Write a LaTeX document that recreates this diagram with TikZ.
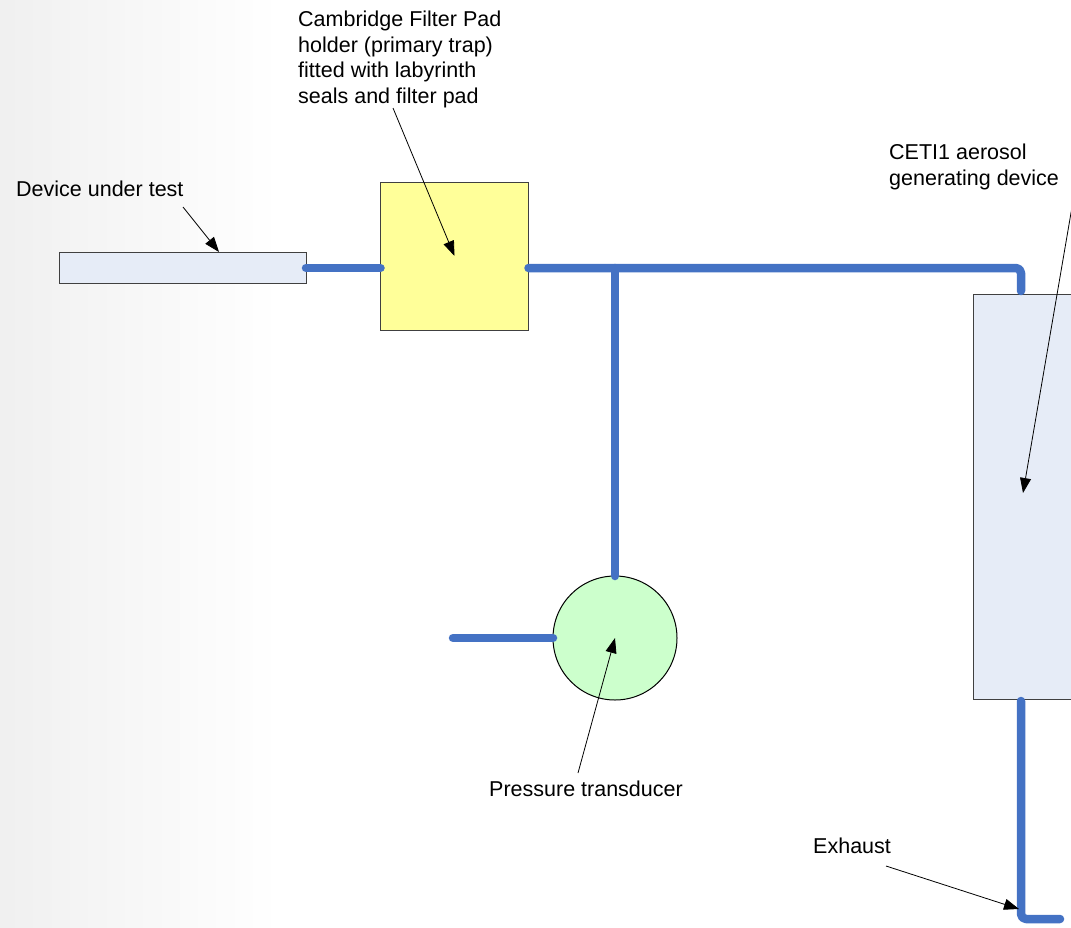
\documentclass[tikz,border=0pt]{standalone}
\usepackage{fontspec}
\setmainfont{Liberation Sans}
\usetikzlibrary{arrows.meta}

\definecolor{pipeblue}{RGB}{68,114,196}
\definecolor{boxblue}{RGB}{230,236,247}
\definecolor{padyellow}{RGB}{255,255,153}
\definecolor{gaugegreen}{RGB}{204,255,204}
\definecolor{edgegray}{RGB}{64,64,64}

\begin{document}
\begin{tikzpicture}[x=1pt,y=-1pt,
    pipe/.style={line width=8.5pt,pipeblue,line cap=round,line join=round},
    pointer/.style={line width=0.8pt,-{Triangle[length=15pt,width=11pt]}},
    callout/.style={inner sep=0pt,font=\fontsize{21.5}{25.5}\selectfont,align=left},
    unit/.style={draw=edgegray,line width=1pt,inner sep=0pt,outer sep=0pt}]
      %\draw[help lines] (0,0) grid (1071,927);
      \useasboundingbox (0,0) rectangle (1071,927);
      \shade[left color=black!6,right color=white] (0,0) rectangle (280,927);
      % Units
      \node[unit,fill=boxblue,minimum width=247pt,minimum height=31pt] (dut) at (182.5,268) {};
      \node[unit,fill=padyellow,minimum size=148pt] (trap) at (454.5,256) {};
      \node[unit,draw=black,circle,fill=gaugegreen,minimum size=124pt] (gauge) at (615,638) {};
      \node[unit,fill=boxblue,minimum width=200pt,minimum height=405pt] (ceti) at (1073,496.5) {};
      % Pipe work
      \coordinate (tee) at (615,268);
      \coordinate (inlet) at (1021,291);
      \coordinate (outlet) at (1021,701);
      \coordinate (exhaust) at (1021,919);
      \coordinate (vent) at (1060,919);
      \coordinate (bleed) at (453,638);
      \draw[pipe] (dut.east) -- (trap.west |- dut.east);
      \draw[pipe,rounded corners=5pt] (trap.east |- tee) -- (tee) -| (inlet);
      \draw[pipe] (tee) -- (gauge.north);
      \draw[pipe] (bleed) -- (gauge.west);
      \draw[pipe,rounded corners=5pt] (outlet) -- (exhaust) -- (vent);
      % Labels
      \node[callout,anchor=base west] (dutlabel) at (16,196) {Device under test};
      \node[callout,anchor=north west] (traplabel) at (298,11) {Cambridge Filter Pad\\holder (primary trap)\\fitted with labyrinth\\seals and filter pad};
      \node[callout,anchor=north west] (cetilabel) at (889,144) {CETI1 aerosol\\generating device};
      \node[callout,anchor=base] (gaugelabel) at (586,796) {Pressure transducer};
      \node[callout,anchor=base west] (exhaustlabel) at (813,853) {Exhaust};
      % Pointers
      \coordinate (duttail) at (183,207);
      \coordinate (duttip) at (219,252);
      \coordinate (traptail) at (393,108);
      \coordinate (cetitail) at (1072,207);
      \coordinate (cetitip) at (1023,493);
      \coordinate (gaugetail) at (578,773);
      \coordinate (exhausttail) at (886,866);
      \coordinate (exhausttip) at (1019,909);
      \draw[pointer] (duttail) -- (duttip);
      \draw[pointer] (traptail) -- (trap.center);
      \draw[pointer] (cetitail) -- (cetitip);
      \draw[pointer] (gaugetail) -- (gauge.center);
      \draw[pointer] (exhausttail) -- (exhausttip);
\end{tikzpicture}
\end{document}
